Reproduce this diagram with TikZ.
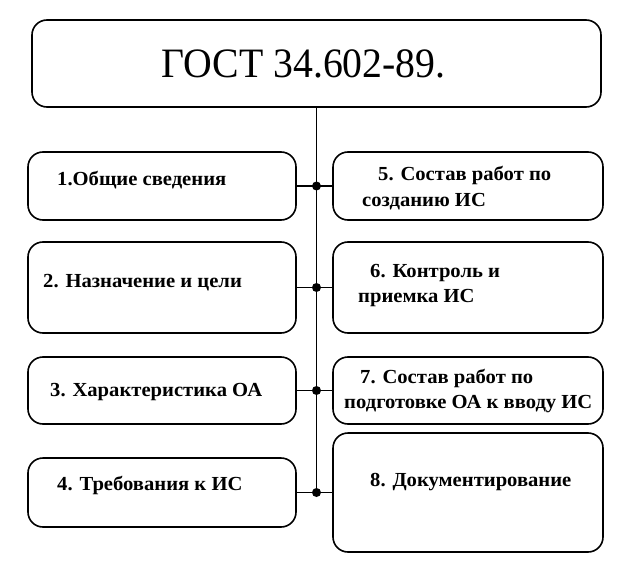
\documentclass[tikz,border=0pt]{standalone}
\usepackage{fontspec}
\setmainfont{Liberation Serif}
\newfontfamily\gostfont[FakeStretch=0.95]{Liberation Serif}
\newfontfamily\partfont[FakeStretch=1.035]{Liberation Serif}

\begin{document}
\begin{tikzpicture}[x=1bp, y=-1bp,
    box/.style={draw, line width=1.6bp, rounded corners=15bp, inner sep=0pt},
    part/.style={anchor=base west, inner sep=0pt, font=\partfont\bfseries\fontsize{20}{24}\selectfont},
    link/.style={line width=1.2bp},
    joint/.style={circle, fill, inner sep=0pt, minimum size=9bp}]

    \useasboundingbox (0,0) rectangle (637,577);

    % header
    \node[box, minimum width=569bp, minimum height=87bp] (top) at (316.5,63.5) {};
    \node[anchor=base, inner sep=0pt, font=\gostfont\fontsize{42}{50}\selectfont] (title) at (303.5,78) {ГОСТ 34.602-89.};

    % left column
    \node[box, minimum width=268bp, minimum height=68bp] (b1) at (162,186) {};
    \node[box, minimum width=268bp, minimum height=91bp] (b2) at (162,287.5) {};
    \node[box, minimum width=268bp, minimum height=67bp] (b3) at (162,390.5) {};
    \node[box, minimum width=268bp, minimum height=69bp] (b4) at (162,492.5) {};

    % right column
    \node[box, minimum width=270bp, minimum height=68bp] (b5) at (468,186) {};
    \node[box, minimum width=270bp, minimum height=91bp] (b6) at (468,287.5) {};
    \node[box, minimum width=270bp, minimum height=67bp] (b7) at (468,390.5) {};
    \node[box, minimum width=270bp, minimum height=119bp] (b8) at (468,492.5) {};

    % texts
    \node[part] (t1) at (57,186) {1.Общие сведения};
    \node[part] (t2) at (43,287) {2. Назначение и цели};
    \node[part] (t3) at (50,396) {3. Характеристика ОА};
    \node[part] (t4) at (57,490) {4. Требования к ИС};
    \node[part] (t5a) at (378,181) {5. Состав работ по};
    \node[part] (t5b) at (362,206) {созданию ИС};
    \node[part] (t6a) at (370,277) {6. Контроль и};
    \node[part] (t6b) at (358,302) {приемка ИС};
    \node[part] (t7a) at (360,383) {7. Состав работ по};
    \node[part] (t7b) at (344,408) {подготовке ОА к вводу ИС};
    \node[part] (t8) at (370,486) {8. Документирование};

    % joints on the trunk
    \coordinate (j1) at (top.south |- b1.east);
    \coordinate (j2) at (top.south |- b2.east);
    \coordinate (j3) at (top.south |- b3.east);
    \coordinate (j4) at (top.south |- b4.east);

    \draw[link] (top.south) -- (j4);
    \draw[link] (b1.east) -- (b5.west);
    \draw[link] (b2.east) -- (b6.west);
    \draw[link] (b3.east) -- (b7.west);
    \draw[link] (b4.east) -- (b8.west);

    \node[joint] (d1) at (j1) {};
    \node[joint] (d2) at (j2) {};
    \node[joint] (d3) at (j3) {};
    \node[joint] (d4) at (j4) {};
\end{tikzpicture}
\end{document}
